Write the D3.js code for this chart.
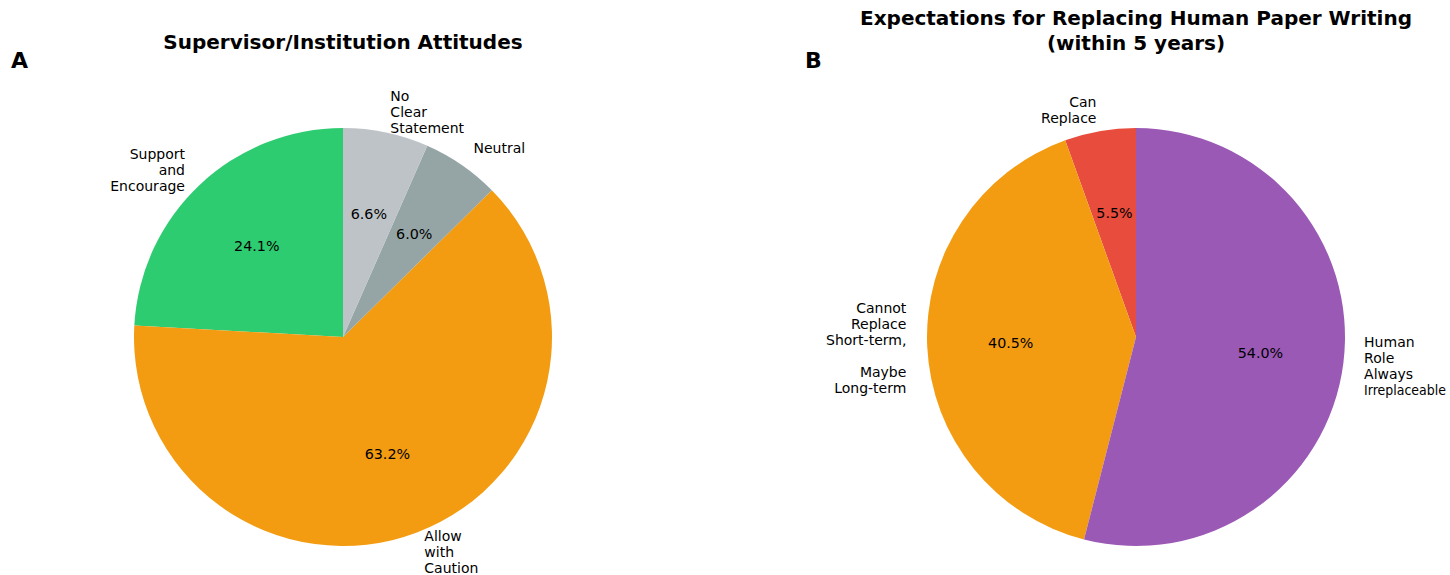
<!DOCTYPE html>
<html>
<head>
<meta charset="utf-8">
<script src="https://cdn.jsdelivr.net/npm/d3@7"></script>
<style>
  html, body { margin: 0; padding: 0; background: #fff; }
  svg { display: block; font-family: "DejaVu Sans", sans-serif; }
</style>
</head>
<body>
<svg id="chart" width="1450" height="575"></svg>
<script>
// Panel A: supervisor / institution attitudes
const attitudeLabels = ["Support\nand\nEncourage", "Allow\nwith\nCaution", "Neutral", "No\nClear\nStatement"];
const attitudeValues = [24.1, 63.2, 6.0, 6.6];
const attitudeColors = ["#2ecc71", "#f39c12", "#95a5a6", "#bdc3c7"];

// Panel B: expectations for replacing human paper writing
const replaceLabels = ["Can\nReplace", "Cannot\nReplace\nShort-term,\n\nMaybe\nLong-term", "Human\nRole\nAlways\nIrreplaceable"];
const replaceValues = [5.5, 40.5, 54.0];
const replaceColors = ["#e74c3c", "#f39c12", "#9b59b6"];

const width = 1450;
const svg = d3.select("#chart");
const radius = 209;
const labelDist = 1.1;
const pctDist = 0.6;
const fontSize = 14;
const pctFontSize = 14.3;
const lineHeight = 16;

function drawPie(cx, cy, labels, values, colors) {
  const g = svg.append("g").attr("transform", `translate(${cx},${cy})`);
  // start at 12 o'clock and run counter-clockwise
  const pie = d3.pie().sort(null).startAngle(0).endAngle(-2 * Math.PI);
  const arcs = pie(values);
  const arc = d3.arc().innerRadius(0).outerRadius(radius);

  g.selectAll("path.wedge").data(arcs).join("path")
    .attr("class", "wedge")
    .attr("d", arc)
    .attr("fill", (d, i) => colors[i]);

  arcs.forEach((d, i) => {
    const a = (d.startAngle + d.endAngle) / 2;
    const sx = Math.sin(a), sy = -Math.cos(a);

    // category label outside the wedge, one text per line
    const lx = sx * radius * labelDist, ly = sy * radius * labelDist;
    const lines = labels[i].split("\n");
    const anchor = lx > 0 ? "start" : "end";
    const top = -((lines.length - 1) * lineHeight) / 2;
    lines.forEach((ln, j) => {
      if (ln === "") return;
      const y = ly + top + j * lineHeight;
      const t = g.append("text")
        .attr("transform", `translate(${lx},${y})`)
        .attr("dy", "0.35em")
        .attr("text-anchor", anchor)
        .attr("font-size", fontSize)
        .attr("fill", "#000")
        .text(ln);
      // narrow a left-anchored line that would run past the right edge
      if (anchor === "start") {
        const room = width - 4 - (cx + lx);
        const len = t.node().getComputedTextLength();
        if (len > room) t.attr("transform", `translate(${lx},${y}) scale(${room / len},1)`);
      }
    });

    // percentage inside the wedge
    g.append("text")
      .attr("x", sx * radius * pctDist)
      .attr("y", sy * radius * pctDist)
      .attr("dy", "0.35em")
      .attr("text-anchor", "middle")
      .attr("font-size", pctFontSize)
      .attr("fill", "#000")
      .text(values[i].toFixed(1) + "%");
  });
}

drawPie(343, 337, attitudeLabels, attitudeValues, attitudeColors);
drawPie(1136, 337, replaceLabels, replaceValues, replaceColors);

// titles
svg.append("text").attr("x", 343).attr("y", 49)
  .attr("text-anchor", "middle").attr("font-size", 20).attr("font-weight", "bold")
  .text("Supervisor/Institution Attitudes");
svg.append("text").attr("x", 1136).attr("y", 25)
  .attr("text-anchor", "middle").attr("font-size", 20).attr("font-weight", "bold")
  .text("Expectations for Replacing Human Paper Writing");
svg.append("text").attr("x", 1136).attr("y", 50)
  .attr("text-anchor", "middle").attr("font-size", 20).attr("font-weight", "bold")
  .text("(within 5 years)");

// panel letters
svg.append("text").attr("x", 11).attr("y", 68)
  .attr("font-size", 22).attr("font-weight", "bold").text("A");
svg.append("text").attr("x", 805).attr("y", 68)
  .attr("font-size", 22).attr("font-weight", "bold").text("B");
</script>
</body>
</html>
